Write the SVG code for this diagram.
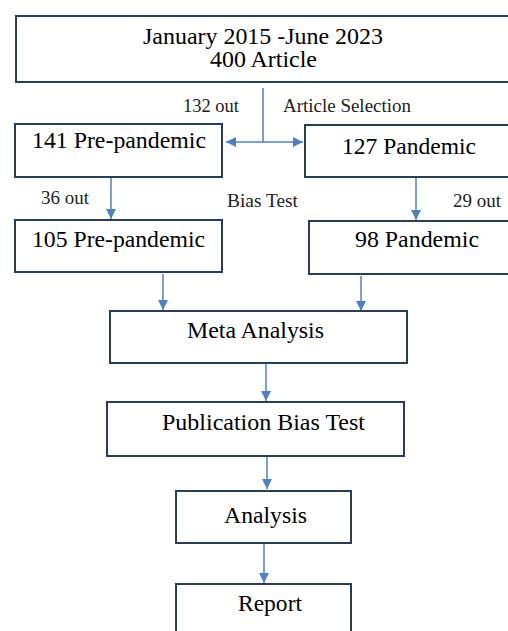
<svg xmlns="http://www.w3.org/2000/svg" width="508" height="631" viewBox="0 0 508 631">
<style>
.box{fill:#fff;stroke:#2a3d57;stroke-width:2}
.big{font-family:"Liberation Serif","Times New Roman",serif;font-size:23px;fill:#000}
.sm{font-family:"Liberation Serif","Times New Roman",serif;font-size:18px;fill:#222}
.con{stroke:#4f81bd;stroke-width:1.5;fill:none}
</style>
<defs>
<marker id="ah" viewBox="0 0 10 10" refX="10" refY="5" markerWidth="10" markerHeight="10" markerUnits="userSpaceOnUse" orient="auto">
<path d="M0,0 L10,5 L0,10 z" fill="#4f81bd"/>
</marker>
</defs>
<rect width="508" height="631" fill="#fff"/>
<g id="connectors">
<path class="con" d="M263,88 V142"/>
<path class="con" d="M263,142 H226" marker-end="url(#ah)"/>
<path class="con" d="M263,142 H303" marker-end="url(#ah)"/>
<path class="con" d="M111,177 V219" marker-end="url(#ah)"/>
<path class="con" d="M416,177 V220" marker-end="url(#ah)"/>
<path class="con" d="M163,274 V310" marker-end="url(#ah)"/>
<path class="con" d="M361,276 V311" marker-end="url(#ah)"/>
<path class="con" d="M266,363 V401" marker-end="url(#ah)"/>
<path class="con" d="M267,456 V489" marker-end="url(#ah)"/>
<path class="con" d="M264,543 V583" marker-end="url(#ah)"/>
</g>
<g id="labels">
<text class="sm" x="183" y="112" textLength="56" lengthAdjust="spacingAndGlyphs">132 out</text>
<text class="sm" x="283" y="112" textLength="128" lengthAdjust="spacingAndGlyphs">Article Selection</text>
<text class="sm" x="41" y="204" textLength="48" lengthAdjust="spacingAndGlyphs">36 out</text>
<text class="sm" x="227" y="207" textLength="71" lengthAdjust="spacingAndGlyphs">Bias Test</text>
<text class="sm" x="453" y="207" textLength="48" lengthAdjust="spacingAndGlyphs">29 out</text>
</g>
<g id="n-source">
<rect class="box" x="16" y="16" width="500" height="66"/>
<text class="big" x="143" y="44" textLength="240" lengthAdjust="spacingAndGlyphs">January 2015 -June 2023</text>
<text class="big" x="210" y="67" textLength="107" lengthAdjust="spacingAndGlyphs">400 Article</text>
</g>
<g id="n-pre141">
<rect class="box" x="15" y="124" width="207" height="53"/>
<text class="big" x="32" y="148" textLength="174" lengthAdjust="spacingAndGlyphs">141 Pre-pandemic</text>
</g>
<g id="n-pan127">
<rect class="box" x="305" y="125" width="211" height="52"/>
<text class="big" x="342" y="154" textLength="134" lengthAdjust="spacingAndGlyphs">127 Pandemic</text>
</g>
<g id="n-pre105">
<rect class="box" x="15" y="220" width="207" height="52"/>
<text class="big" x="32" y="247" textLength="173" lengthAdjust="spacingAndGlyphs">105 Pre-pandemic</text>
</g>
<g id="n-pan98">
<rect class="box" x="309" y="221" width="207" height="53"/>
<text class="big" x="355" y="247" textLength="124" lengthAdjust="spacingAndGlyphs">98 Pandemic</text>
</g>
<g id="n-meta">
<rect class="box" x="110" y="311" width="297" height="52"/>
<text class="big" x="187" y="338" textLength="137" lengthAdjust="spacingAndGlyphs">Meta Analysis</text>
</g>
<g id="n-pubbias">
<rect class="box" x="107" y="402" width="297" height="54"/>
<text class="big" x="162" y="430" textLength="203" lengthAdjust="spacingAndGlyphs">Publication Bias Test</text>
</g>
<g id="n-analysis">
<rect class="box" x="176" y="491" width="175" height="52"/>
<text class="big" x="224" y="523" textLength="83" lengthAdjust="spacingAndGlyphs">Analysis</text>
</g>
<g id="n-report">
<rect class="box" x="176" y="584" width="175" height="60"/>
<text class="big" x="238" y="611" textLength="64" lengthAdjust="spacingAndGlyphs">Report</text>
</g>
</svg>
